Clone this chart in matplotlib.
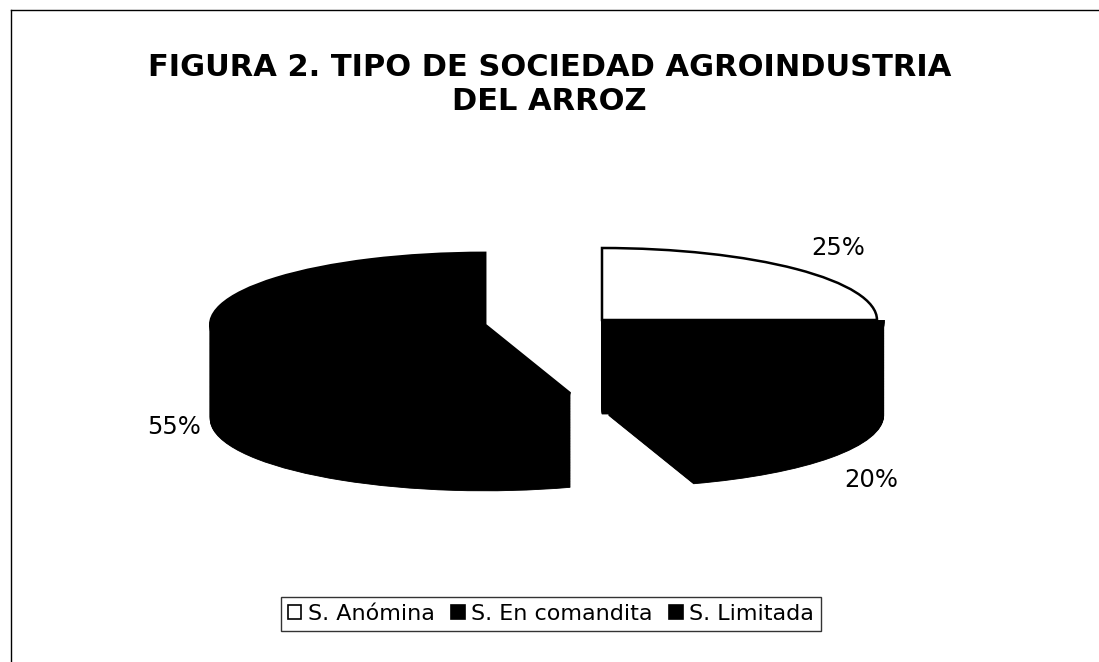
import numpy as np
import matplotlib
matplotlib.use("Agg")
import matplotlib.pyplot as plt
from matplotlib.patches import Patch
from matplotlib.lines import Line2D

categories = ["S. Anómina", "S. En comandita", "S. Limitada"]
values = [25, 20, 55]
pct_labels = ["25%", "20%", "55%"]
title = "FIGURA 2. TIPO DE SOCIEDAD AGROINDUSTRIA\nDEL ARROZ"

top_colors = ["white", "black", "black"]
explode = [0.0, 0.03, 0.43]

W, H = 1099, 662
fig = plt.figure(figsize=(W / 100, H / 100), dpi=100)
fig.patch.set_facecolor("white")

ax = fig.add_axes([0, 0, 1, 1])
# pixel geometry: 275 px per x-unit, 72 px per y-unit
cx, cy = 602, 320
sx, sy = 275.0, 72.0
depth = 94.0 / sy

# side walls: stacked black layers
for d in np.linspace(depth, 0, 130):
    ax.pie(values, startangle=90, counterclock=False, explode=explode,
           center=(0, -d), colors=["black"] * 3,
           wedgeprops=dict(linewidth=0.6, edgecolor="black"))

# top faces
wedges, _ = ax.pie(values, startangle=90, counterclock=False, explode=explode,
                   colors=top_colors,
                   wedgeprops=dict(linewidth=1.8, edgecolor="black"))

ax.set_aspect("auto")
ax.set_xlim(-cx / sx, (W - cx) / sx)
ax.set_ylim((cy - H) / sy, cy / sy)
ax.axis("off")

# label positions (pixel centres converted to data units)
label_px = [(838, 248), (871, 480), (174, 427)]
for txt, (px, py) in zip(pct_labels, label_px):
    ax.text((px - cx) / sx, (cy - py) / sy, txt, fontsize=17.5, ha="center",
            va="center", family="DejaVu Sans", color="black")

fig.text(0.5, 1 - 84.5 / H, title, ha="center", va="center", fontsize=22,
         fontweight="bold", family="DejaVu Sans", linespacing=1.25)

# legend
handles = [Patch(facecolor=c, edgecolor="black", linewidth=1.2) for c in top_colors]
leg = fig.legend(handles, categories, loc="center", bbox_to_anchor=(551 / W, 1 - 614 / H),
                 ncol=3, frameon=True, handlelength=0.6, handleheight=0.6,
                 handletextpad=0.3, columnspacing=0.75, borderpad=0.3, fancybox=False,
                 borderaxespad=0, edgecolor="black", prop=dict(family="DejaVu Sans", size=16))
leg.get_frame().set_linewidth(1.0)

# outer border (top and left)
fig.add_artist(Line2D([11 / W, 1], [1 - 10 / H, 1 - 10 / H], color="black", lw=1.0))
fig.add_artist(Line2D([11 / W, 11 / W], [1 - 10 / H, 0], color="black", lw=1.0))

fig.savefig("out.png", dpi=100, facecolor="white")
